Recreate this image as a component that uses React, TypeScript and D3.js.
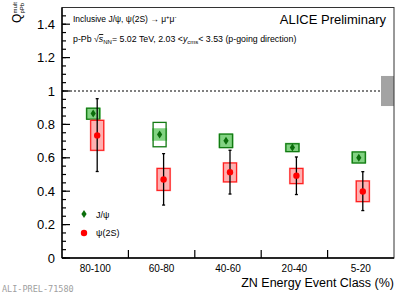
import React from "react";
import * as d3 from "d3";

// event classes (ZN energy)
const classes = ["80-100", "60-80", "40-60", "20-40", "5-20"];

// J/psi: value, uncorrelated syst (open box), correlated syst (filled box)
const jpsiVal = [0.866, 0.74, 0.702, 0.661, 0.601];
const jpsiStatLo = [0.852, 0.728, 0.69, 0.652, 0.59];
const jpsiStatHi = [0.88, 0.752, 0.714, 0.67, 0.612];
const jpsiOpenLo = [0.831, 0.666, 0.661, 0.637, 0.569];
const jpsiOpenHi = [0.897, 0.812, 0.742, 0.684, 0.635];
const jpsiFillLo = [0.828, 0.702, 0.658, 0.634, 0.566];
const jpsiFillHi = [0.9, 0.777, 0.745, 0.69, 0.638];

// psi(2S)
const psiVal = [0.734, 0.47, 0.514, 0.493, 0.398];
const psiStatLo = [0.518, 0.317, 0.383, 0.38, 0.284];
const psiStatHi = [0.954, 0.625, 0.645, 0.605, 0.517];
const psiBoxLo = [0.645, 0.405, 0.456, 0.446, 0.338];
const psiBoxHi = [0.824, 0.536, 0.569, 0.536, 0.461];

const yMajor = [0, 0.2, 0.4, 0.6, 0.8, 1, 1.2, 1.4];
const globalSyst = 0.09;

const font = "'Liberation Sans', Arial, Helvetica, sans-serif";
const frame = { left: 62, right: 394, top: 7.5, bottom: 258 };

const App = () => {
  const x = d3
    .scaleBand()
    .domain(classes)
    .range([frame.left, frame.right])
    .padding(0);
  const y = d3.scaleLinear().domain([0, 1.5]).range([frame.bottom, frame.top]);
  const cx = (c: string) => (x(c) as number) + x.bandwidth() / 2;
  const minor = d3.range(0, 1.5, 0.05);
  const bounds = classes.slice(1).map((c) => x(c) as number);
  const bw = 13;
  const jOff = -2;
  const pOff = 2;
  const greySx = 381;

  return (
    <svg
      width={407}
      height={296}
      style={{ position: "absolute", left: 0, top: 0, background: "#fff" }}
      fontFamily={font}
    >
      <rect width={407} height={296} fill="#fff" />

      {/* global syst box at unity */}
      <rect
        x={greySx}
        y={y(1 + globalSyst)}
        width={frame.right - greySx}
        height={y(1 - globalSyst) - y(1 + globalSyst)}
        fill="#a3a3a3"
      />
      <line
        x1={frame.left}
        x2={greySx}
        y1={y(1)}
        y2={y(1)}
        stroke="#000"
        strokeWidth={1}
        strokeDasharray="2,2"
      />

      {/* J/psi boxes */}
      {classes.map((c, i) => (
        <g key={"jb" + c}>
          <rect
            x={cx(c) + jOff - (bw + 2) / 2}
            y={y(jpsiFillHi[i])}
            width={bw + 2}
            height={y(jpsiFillLo[i]) - y(jpsiFillHi[i])}
            fill="#2fb52f"
            fillOpacity={0.6}
          />
          <rect
            x={cx(c) + jOff - bw / 2}
            y={y(jpsiOpenHi[i])}
            width={bw}
            height={y(jpsiOpenLo[i]) - y(jpsiOpenHi[i])}
            fill="none"
            stroke="#127a12"
            strokeWidth={1.3}
          />
        </g>
      ))}

      {/* psi(2S) boxes */}
      {classes.map((c, i) => (
        <g key={"pb" + c}>
          <rect
            x={cx(c) + pOff - (bw + 2) / 2}
            y={y(psiBoxHi[i]) - 1}
            width={bw + 2}
            height={y(psiBoxLo[i]) - y(psiBoxHi[i]) + 2}
            fill="#ff7070"
            fillOpacity={0.55}
          />
          <rect
            x={cx(c) + pOff - bw / 2}
            y={y(psiBoxHi[i])}
            width={bw}
            height={y(psiBoxLo[i]) - y(psiBoxHi[i])}
            fill="none"
            stroke="#ff2020"
            strokeWidth={1.2}
          />
        </g>
      ))}

      {/* stat errors */}
      {classes.map((c, i) => (
        <g key={"je" + c} stroke="#000" strokeWidth={1.3}>
          <line
            x1={cx(c) + jOff}
            x2={cx(c) + jOff}
            y1={y(jpsiStatLo[i])}
            y2={y(jpsiStatHi[i])}
          />
        </g>
      ))}
      {classes.map((c, i) => (
        <g key={"pe" + c} stroke="#000" strokeWidth={1.3}>
          <line
            x1={cx(c) + pOff}
            x2={cx(c) + pOff}
            y1={y(psiStatLo[i])}
            y2={y(psiStatHi[i])}
          />
          <line
            x1={cx(c) + pOff - 1.5}
            x2={cx(c) + pOff + 1.5}
            y1={y(psiStatLo[i])}
            y2={y(psiStatLo[i])}
          />
          <line
            x1={cx(c) + pOff - 1.5}
            x2={cx(c) + pOff + 1.5}
            y1={y(psiStatHi[i])}
            y2={y(psiStatHi[i])}
          />
        </g>
      ))}

      {/* markers */}
      {classes.map((c, i) => {
        const mx = cx(c) + jOff;
        const my = y(jpsiVal[i]);
        return (
          <path
            key={"jm" + c}
            d={`M${mx},${my - 4}L${mx + 2.6},${my}L${mx},${my + 4}L${mx - 2.6},${my}Z`}
            fill="#0b6e0b"
          />
        );
      })}
      {classes.map((c, i) => (
        <circle
          key={"pm" + c}
          cx={cx(c) + pOff}
          cy={y(psiVal[i])}
          r={3.2}
          fill="#ff0000"
        />
      ))}

      {/* frame */}
      <rect
        x={frame.left}
        y={frame.top}
        width={frame.right - frame.left}
        height={frame.bottom - frame.top}
        fill="none"
        stroke="#333"
        strokeWidth={1}
      />
      <line x1={frame.left} x2={frame.left} y1={frame.top} y2={frame.bottom} stroke="#000" strokeWidth={1.4} />
      <line x1={frame.left} x2={frame.right} y1={frame.bottom} y2={frame.bottom} stroke="#000" strokeWidth={1.4} />

      {/* y ticks */}
      {minor.map((v) => (
        <line
          key={"ym" + v}
          x1={frame.left}
          x2={frame.left + 4}
          y1={y(v)}
          y2={y(v)}
          stroke="#000"
          strokeWidth={1.2}
        />
      ))}
      {yMajor.map((v) => (
        <g key={"yM" + v}>
          <line
            x1={frame.left}
            x2={frame.left + 8}
            y1={y(v)}
            y2={y(v)}
            stroke="#000"
            strokeWidth={1.2}
          />
          <text
            x={55}
            y={y(v) + 4.5}
            textAnchor="end"
            fontSize={13}
            fill="#000"
          >
            {String(+v.toFixed(1))}
          </text>
        </g>
      ))}

      {/* x ticks */}
      {bounds.map((b) => (
        <line
          key={"xt" + b}
          x1={b}
          x2={b}
          y1={frame.bottom}
          y2={frame.bottom - 8}
          stroke="#000"
          strokeWidth={1.2}
        />
      ))}
      {classes.map((c) => (
        <text
          key={"xl" + c}
          x={cx(c)}
          y={272}
          textAnchor="middle"
          fontSize={10}
          fill="#000"
        >
          {c}
        </text>
      ))}
      <text x={394} y={287} textAnchor="end" fontSize={12.5} fill="#000">
        ZN Energy Event Class (%)
      </text>

      {/* y title */}
      <g transform="translate(21,23) rotate(-90)">
        <text x={0} y={0} fontSize={12} fill="#000">Q</text>
        <text x={9.5} y={-4} fontSize={6} fill="#000">mult</text>
        <text x={9.5} y={3} fontSize={6} fill="#000">pPb</text>
      </g>

      {/* header */}
      <text x={73} y={22} fontSize={8.5} fill="#000">
        Inclusive J/ψ, ψ(2S) → μ<tspan dy={-3} fontSize={6}>+</tspan>
        <tspan dy={3}>μ</tspan>
        <tspan dy={-3} fontSize={6}>-</tspan>
      </text>
      <text x={386} y={24} textAnchor="end" fontSize={13} fill="#000">
        ALICE Preliminary
      </text>
      <text x={73} y={42} fontSize={8.8} fill="#000">
        p-Pb √<tspan fontStyle="italic" textDecoration="overline">s</tspan>
        <tspan dy={2} fontSize={6}>NN</tspan>
        <tspan dy={-2}>= 5.02 TeV, 2.03 &lt;</tspan>
        <tspan fontStyle="italic">y</tspan>
        <tspan dy={2} fontSize={6}>cms</tspan>
        <tspan dy={-2}>&lt; 3.53 (p-going direction)</tspan>
      </text>

      {/* legend */}
      <path d="M84,210L86.6,214L84,218L81.4,214Z" fill="#0b6e0b" />
      <text x={96} y={218} fontSize={9} fill="#000">J/ψ</text>
      <circle cx={84} cy={233} r={3.2} fill="#ff0000" />
      <text x={96} y={236} fontSize={9} fill="#000">ψ(2S)</text>

      <text
        x={2}
        y={292}
        fontSize={8.5}
        fontFamily="'DejaVu Sans Mono', 'Liberation Mono', monospace"
        fill="#a0a0a0"
      >
        ALI-PREL-71580
      </text>
    </svg>
  );
};

export default App;
